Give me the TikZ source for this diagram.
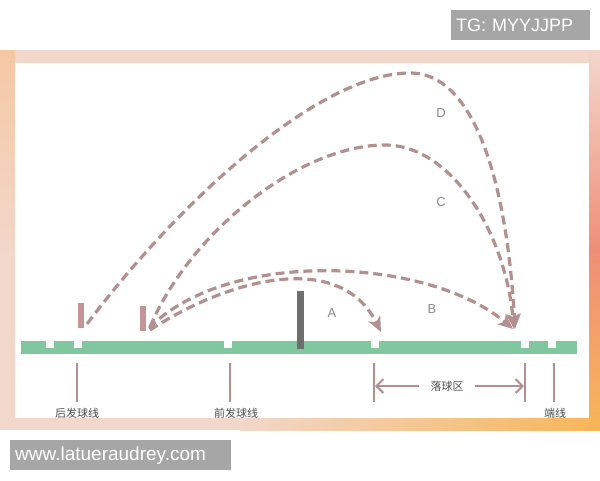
\documentclass[tikz,border=0pt]{standalone}
\usepackage{fontspec}
\setmainfont{Liberation Sans}
\newfontfamily\cjk{Noto Sans CJK SC}
\usetikzlibrary{arrows.meta}
\definecolor{traj}{HTML}{B39090}
\definecolor{court}{HTML}{80C7A0}
\definecolor{framepink}{HTML}{F2D7CB}
\definecolor{framepeach}{HTML}{F5C8A4}
\definecolor{framesalmon}{HTML}{EF8E78}
\definecolor{frameorange}{HTML}{F7B658}
\definecolor{playerc}{HTML}{C49596}
\definecolor{netc}{HTML}{6E6E6E}
\definecolor{lblgray}{HTML}{8A8A8A}
\definecolor{wmgray}{HTML}{A6A6A6}
\tikzset{
  trajpath/.style={draw=traj, line width=3.2pt, dash pattern=on 9pt off 5pt,
    -{Stealth[length=15pt,width=13pt,inset=4pt]}},
  playerbox/.style={fill=playerc, inner sep=0pt, minimum width=6pt, minimum height=25pt},
  netbox/.style={fill=netc, inner sep=0pt, minimum width=7pt, minimum height=58pt},
  notch/.style={fill=white},
  markline/.style={draw=traj, line width=2pt},
  letterlbl/.style={text=lblgray, font=\fontsize{13pt}{13pt}\selectfont, inner sep=0pt},
  cnlbl/.style={text=black!70, font=\cjk\fontsize{11pt}{11pt}\selectfont, inner sep=0pt},
  barb/.style={draw=traj, line width=2pt, -{Straight Barb[length=7pt,width=14pt]}},
  wmbox/.style={fill=wmgray, text=white, anchor=north west, inner xsep=5pt, inner ysep=0pt,
    font=\fontsize{18pt}{18pt}\selectfont}
}
\begin{document}
\begin{tikzpicture}[x=1pt,y=-1pt]
\useasboundingbox (0,0) rectangle (600,480);
\fill[white] (0,0) rectangle (600,480);
% frame
\fill[framepink] (0,50) rectangle (600,430);
\shade[top color=framepeach, bottom color=framepink] (0,50) rectangle (15,260);
\shade[left color=framepink, right color=frameorange] (240,418) rectangle (600,430);
\shade[top color=framepink, bottom color=framesalmon] (589,50) rectangle (600,250);
\shade[top color=framesalmon, bottom color=frameorange] (589,250) rectangle (600,430);
\fill[white] (15,63) rectangle (589,418);
% court
\fill[court] (21,341) rectangle (577,354);
\foreach \x in {46,74,224,371,521,548} \fill[notch] (\x,341) rectangle (\x+8,348);
% net and players
\node[netbox] (net) at (300.5,320) {};
\node[playerbox] (p1) at (81,315.5) {};
\node[playerbox] (p2) at (143,318) {};
% trajectory ends
\coordinate (sD) at (87,324);
\coordinate (sB) at (149,328);
\coordinate (sA) at (150,330);
\coordinate (sC) at (150,327);
\coordinate (pD) at (410,73);
\coordinate (pC) at (385,145);
\coordinate (lA) at (381,332);
\coordinate (lB) at (513,329);
\coordinate (lC) at (514,329);
\coordinate (lD) at (515,329);
% trajectories
\draw[trajpath] (sD) .. controls (180,200) and (320,73) .. (pD) .. controls (480,73) and (508,200) .. (lD);
\draw[trajpath] (sC) .. controls (190,232) and (300,145) .. (pC) .. controls (450,145) and (505,230) .. (lC);
\draw[trajpath] (sB) .. controls (230,247) and (430,258) .. (lB);
\draw[trajpath] (sA) .. controls (230,278) and (340,250) .. (lA);
% letters
\node[letterlbl] (la) at (332,313) {A};
\node[letterlbl] (lb) at (432,309) {B};
\node[letterlbl] (lc) at (441,202) {C};
\node[letterlbl] (ld) at (441,113) {D};
% marks under the court
\draw[markline] (77,363) -- (77,402);
\draw[markline] (230,363) -- (230,402);
\draw[markline] (374,363) -- (374,402);
\draw[markline] (525,363) -- (525,402);
\draw[markline] (554,363) -- (554,402);
\node[cnlbl] (back) at (77,413) {后发球线};
\node[cnlbl] (front) at (236,413) {前发球线};
\node[cnlbl] (endl) at (555,413) {端线};
\node[cnlbl, inner xsep=11pt] (zone) at (447,386) {落球区};
\coordinate (zl) at (375,386);
\coordinate (zr) at (524,386);
\draw[barb] (zone.west) -- (zl);
\draw[barb] (zone.east) -- (zr);
% watermarks
\node[wmbox, minimum width=139pt, minimum height=30pt, align=left, text width=129pt] (wm1) at (451,10) {TG: MYYJJPP};
\node[wmbox, minimum width=221pt, minimum height=30pt, align=left, text width=211pt, font=\fontsize{19pt}{19pt}\selectfont] (wm2) at (10,440) {www.latueraudrey.com};
\end{tikzpicture}
\end{document}
